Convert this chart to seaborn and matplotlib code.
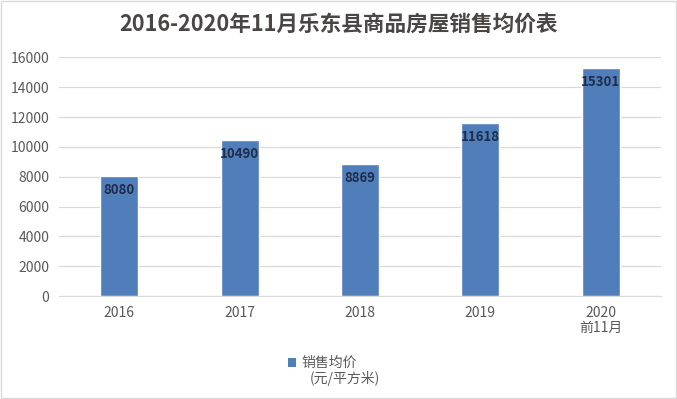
import matplotlib.pyplot as plt
import seaborn as sns
import pandas as pd
from matplotlib.patches import Patch

years = ['2016', '2017', '2018', '2019', '2020\n前11月']
prices = [8080, 10490, 8869, 11618, 15301]
yticks = [0, 2000, 4000, 6000, 8000, 10000, 12000, 14000, 16000]

sns.set_style('white')
plt.rcParams['font.family'] = ['Noto Sans CJK SC', 'DejaVu Sans']

df = pd.DataFrame({'year': years, 'price': prices})
bar_color = '#4F7EBB'

fig = plt.figure(figsize=(6.77, 3.99), dpi=100)
ax = fig.add_axes([0.0872, 0.2581, 0.889, 0.598])
sns.barplot(data=df, x='year', y='price', color=bar_color, width=0.316,
            saturation=1, ax=ax)

ax.set_ylim(0, 16000)
ax.set_yticks(yticks)
ax.yaxis.grid(True, color='#D9D9D9', linewidth=0.9)
ax.set_axisbelow(True)
for s in ['top', 'right', 'left']:
    ax.spines[s].set_visible(False)
ax.spines['bottom'].set_color('#D9D9D9')
ax.tick_params(axis='both', length=0, labelsize=10, colors='#595959')
ax.tick_params(axis='y', pad=7)
ax.tick_params(axis='x', pad=7)
for lbl in ax.get_xticklabels():
    lbl.set_linespacing(1.1)
ax.set_xlabel('')
ax.set_ylabel('')

for container in ax.containers:
    ax.bar_label(container, labels=[str(v) for v in prices], label_type='edge',
                 padding=-15.5, fontsize=9.5, fontweight='bold', color='#1F2D4A')

fig.text(0.5, 0.94, '2016-2020年11月乐东县商品房屋销售均价表', ha='center', va='center',
         fontsize=15.6, fontweight='bold', color='#4A4646')

handle = Patch(facecolor=bar_color, edgecolor='none')
fig.legend([handle], ['销售均价'], loc='center left',
           bbox_to_anchor=(0.425, 0.09), frameon=False, fontsize=10,
           labelcolor='#595959', handlelength=0.6, handleheight=0.6,
           handletextpad=0.4, borderpad=0, borderaxespad=0)
fig.text(0.458, 0.052, '(元/平方米)', ha='left', va='center', fontsize=10,
         color='#595959')

border = plt.Rectangle((0.002, 0.002), 0.996, 0.996, transform=fig.transFigure,
                       fill=False, edgecolor='#D9D9D9', linewidth=1)
fig.patches.append(border)

plt.savefig('out.png', dpi=100)
plt.close()
